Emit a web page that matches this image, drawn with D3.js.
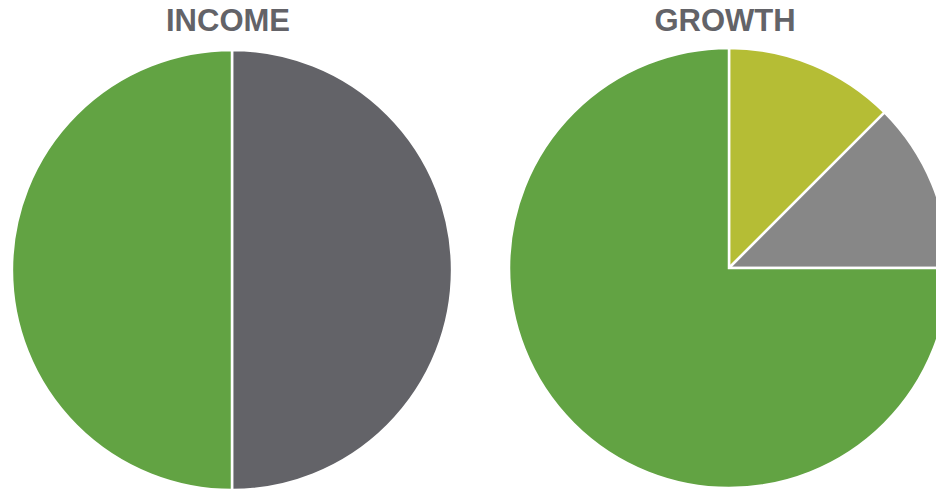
<!DOCTYPE html>
<html>
<head>
<meta charset="utf-8">
<script src="https://cdn.jsdelivr.net/npm/d3@7"></script>
<style>
  body { margin: 0; background: #fff; }
  svg { display: block; }
</style>
</head>
<body>
<div id="chart"></div>
<script>
// chart values
let charts = ['INCOME', 'GROWTH'];
let incomeLabels = ['Income', 'Other'];
let incomeValues = [50, 50];
let growthLabels = ['Growth A', 'Growth B', 'Growth C'];
let growthValues = [12.5, 12.5, 75];

let incomeColors = ['#636368', '#62a343'];
let growthColors = ['#b5bd35', '#878787', '#62a343'];

let width = 936, height = 492;

let svg = d3.select('#chart').append('svg')
    .attr('width', width)
    .attr('height', height);

let pies = [
    {title: charts[0], labels: incomeLabels, values: incomeValues, colors: incomeColors, cx: 232, cy: 270},
    {title: charts[1], labels: growthLabels, values: growthValues, colors: growthColors, cx: 729, cy: 268}
];

let radius = 220;

let pie = d3.pie().sort(null).value(d => d.value);
let arc = d3.arc().innerRadius(0).outerRadius(radius);

pies.forEach(p => {
    let data = p.labels.map((l, i) => ({label: l, value: p.values[i], color: p.colors[i]}));

    let g = svg.append('g')
        .attr('transform', `translate(${p.cx}, ${p.cy})`);

    g.selectAll('path')
        .data(pie(data))
        .enter().append('path')
        .attr('d', arc)
        .attr('fill', d => d.data.color)
        .attr('stroke', '#fff')
        .attr('stroke-width', 2.5);

    svg.append('text')
        .attr('x', p.cx - 4)
        .attr('y', 31)
        .attr('text-anchor', 'middle')
        .style('font-family', '"Liberation Sans", Arial, sans-serif')
        .style('font-weight', 'bold')
        .style('font-size', '31px')
        .style('fill', '#636368')
        .text(p.title);
});
</script>
</body>
</html>
